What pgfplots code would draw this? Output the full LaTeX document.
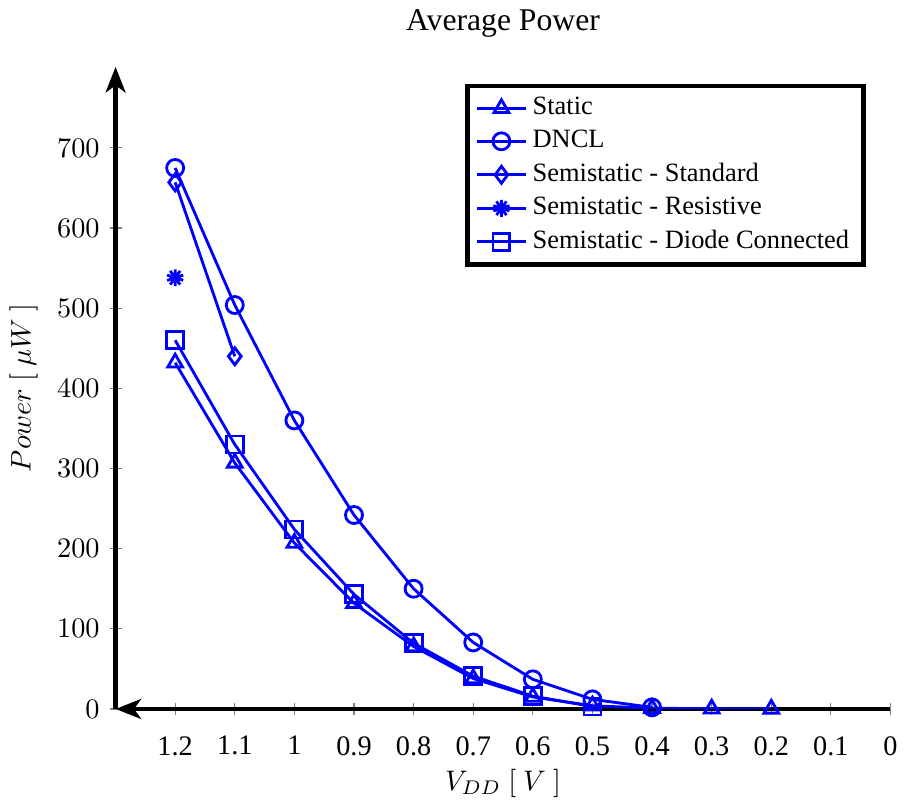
\documentclass[border=0pt]{standalone}
\usepackage{fontspec}
\setmainfont{Liberation Serif}
\usepackage{pgfplots}
\pgfplotsset{compat=1.18}
\usetikzlibrary{arrows.meta}
\begin{document}
\begin{tikzpicture}
\begin{axis}[
  scale only axis, width=274pt, height=227pt,
  x dir=reverse, xmin=0, xmax=1.3, ymin=0, ymax=801,
  axis lines=left,
  axis line style={line width=1.7pt, -{Stealth[length=9pt,width=7pt,inset=2.5pt]}},
  xtick={0,0.1,0.2,0.3,0.4,0.5,0.6,0.7,0.8,0.9,1,1.1,1.2},
  xticklabels={0,0.1,0.2,0.3,0.4,0.5,0.6,0.7,0.8,0.9,1,1.1,1.2},
  ytick={0,100,200,300,400,500,600,700},
  xticklabel shift=4pt,
  tick align=center, tick style={gray, thin},
  xlabel={$V_{DD}\ [\ V\ ]$}, ylabel={$Power\ [\ \mu W\ ]$},
  xlabel style={yshift=2pt},
  title={\rmfamily\fontsize{11.2}{13}\selectfont Average Power},
  title style={yshift=1pt},
  legend style={at={(rel axis cs:0.968,0.974)}, anchor=north east, draw=black, line width=1.7pt,
    font=\rmfamily\fontsize{9.35}{11.3}\selectfont, cells={anchor=west}},
  every axis plot/.append style={blue, line width=1pt, mark size=3pt},
]
\addplot[blue, mark=triangle, mark options={solid}] coordinates {
 (1.2,432) (1.1,307) (1.0,207) (0.9,132) (0.8,78) (0.7,38) (0.6,15) (0.5,4) (0.4,1) (0.3,0.3) (0.2,0.1)};
\addlegendentry{Static}
\addplot[blue, mark=o, mark options={solid}] coordinates {
 (1.2,675) (1.1,504) (1.0,360) (0.9,242) (0.8,150) (0.7,83) (0.6,37) (0.5,12) (0.4,2)};
\addlegendentry{DNCL}
\addplot[blue, mark=diamond, mark options={solid}] coordinates {
 (1.2,657) (1.1,440)};
\addlegendentry{Semistatic - Standard}
\addplot[blue, mark=10-pointed star, mark options={solid, fill=blue}] coordinates {
 (1.2,538)};
\addlegendentry{Semistatic - Resistive}
\addplot[blue, mark=square, mark options={solid}] coordinates {
 (1.2,460) (1.1,330) (1.0,224) (0.9,143) (0.8,82) (0.7,41) (0.6,16) (0.5,3)};
\addlegendentry{Semistatic - Diode Connected}
\end{axis}
\end{tikzpicture}
\end{document}
